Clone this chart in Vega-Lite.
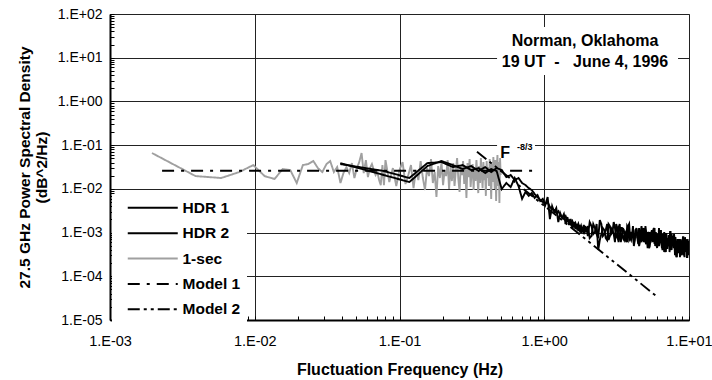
{
  "$schema": "https://vega.github.io/schema/vega-lite/v6.json",
  "width": 579,
  "height": 306,
  "autosize": {"type": "none"},
  "padding": {"left": 110, "top": 14, "right": 23, "bottom": 60},
  "background": "white",
  "config": {
    "font": "Liberation Sans",
    "view": {"stroke": "#888", "strokeWidth": 1},
    "axis": {"labelFont": "Liberation Sans", "titleFont": "Liberation Sans"}
  },
  "datasets": {
    "spec": [
      {"s":"1-sec","f":0.00195,"p":0.066},{"s":"1-sec","f":0.0039,"p":0.0196},{"s":"1-sec","f":0.00586,"p":0.0177},{"s":"1-sec","f":0.00781,"p":0.0242},{"s":"1-sec","f":0.00977,"p":0.035},{"s":"1-sec","f":0.0117,"p":0.0196},{"s":"1-sec","f":0.0137,"p":0.0168},{"s":"1-sec","f":0.0156,"p":0.0284},{"s":"1-sec","f":0.0176,"p":0.0269},{"s":"1-sec","f":0.0195,"p":0.0136},
      {"s":"1-sec","f":0.0215,"p":0.035},{"s":"1-sec","f":0.0234,"p":0.0369},{"s":"1-sec","f":0.0254,"p":0.0433},{"s":"1-sec","f":0.0273,"p":0.0299},{"s":"1-sec","f":0.0293,"p":0.0242},{"s":"1-sec","f":0.0313,"p":0.0369},{"s":"1-sec","f":0.0332,"p":0.0433},{"s":"1-sec","f":0.0352,"p":0.0242},{"s":"1-sec","f":0.0371,"p":0.0315},{"s":"1-sec","f":0.0391,"p":0.0136},
      {"s":"1-sec","f":0.041,"p":0.023},{"s":"1-sec","f":0.043,"p":0.0315},{"s":"1-sec","f":0.0449,"p":0.023},{"s":"1-sec","f":0.0469,"p":0.0389},{"s":"1-sec","f":0.0488,"p":0.0177},{"s":"1-sec","f":0.0508,"p":0.0299},{"s":"1-sec","f":0.0527,"p":0.041},{"s":"1-sec","f":0.0547,"p":0.066},{"s":"1-sec","f":0.0566,"p":0.023},{"s":"1-sec","f":0.0586,"p":0.0456},
      {"s":"1-sec","f":0.0605,"p":0.0186},{"s":"1-sec","f":0.0625,"p":0.0299},{"s":"1-sec","f":0.0645,"p":0.0369},{"s":"1-sec","f":0.0664,"p":0.0269},{"s":"1-sec","f":0.0684,"p":0.0207},{"s":"1-sec","f":0.0703,"p":0.0242},{"s":"1-sec","f":0.0723,"p":0.0159},{"s":"1-sec","f":0.0742,"p":0.0122},{"s":"1-sec","f":0.0762,"p":0.035},{"s":"1-sec","f":0.0781,"p":0.0122},
      {"s":"1-sec","f":0.080,"p":0.0456},{"s":"1-sec","f":0.085,"p":0.0143},{"s":"1-sec","f":0.090,"p":0.0299},{"s":"1-sec","f":0.095,"p":0.0116},{"s":"1-sec","f":0.100,"p":0.0269},{"s":"1-sec","f":0.105,"p":0.041},{"s":"1-sec","f":0.110,"p":0.0129},{"s":"1-sec","f":0.115,"p":0.0207},{"s":"1-sec","f":0.120,"p":0.035},{"s":"1-sec","f":0.125,"p":0.0104},
      {"s":"1-sec","f":0.130,"p":0.0269},{"s":"1-sec","f":0.135,"p":0.0159},{"s":"1-sec","f":0.140,"p":0.0433},{"s":"1-sec","f":0.145,"p":0.0177},{"s":"1-sec","f":0.150,"p":0.0094},{"s":"1-sec","f":0.155,"p":0.0299},{"s":"1-sec","f":0.160,"p":0.0196},{"s":"1-sec","f":0.165,"p":0.0481},{"s":"1-sec","f":0.170,"p":0.0136},{"s":"1-sec","f":0.175,"p":0.0242},
      {"s":"1-sec","f":0.180,"p":0.0065},{"s":"1-sec","f":0.185,"p":0.0333},{"s":"1-sec","f":0.190,"p":0.0177},{"s":"1-sec","f":0.195,"p":0.041},{"s":"1-sec","f":0.200,"p":0.0122},{"s":"1-sec","f":0.205,"p":0.0269},{"s":"1-sec","f":0.210,"p":0.0196},{"s":"1-sec","f":0.215,"p":0.0456},{"s":"1-sec","f":0.220,"p":0.0099},{"s":"1-sec","f":0.225,"p":0.0315},
      {"s":"1-sec","f":0.230,"p":0.0151},{"s":"1-sec","f":0.235,"p":0.0389},{"s":"1-sec","f":0.240,"p":0.0116},{"s":"1-sec","f":0.245,"p":0.0256},{"s":"1-sec","f":0.250,"p":0.0507},{"s":"1-sec","f":0.255,"p":0.0168},{"s":"1-sec","f":0.260,"p":0.0085},{"s":"1-sec","f":0.265,"p":0.035},{"s":"1-sec","f":0.270,"p":0.0207},{"s":"1-sec","f":0.275,"p":0.0433},
      {"s":"1-sec","f":0.280,"p":0.0129},{"s":"1-sec","f":0.285,"p":0.0284},{"s":"1-sec","f":0.290,"p":0.0062},{"s":"1-sec","f":0.295,"p":0.0389},{"s":"1-sec","f":0.300,"p":0.0186},{"s":"1-sec","f":0.305,"p":0.0481},{"s":"1-sec","f":0.310,"p":0.011},{"s":"1-sec","f":0.315,"p":0.0242},{"s":"1-sec","f":0.320,"p":0.0369},{"s":"1-sec","f":0.325,"p":0.0094},
      {"s":"1-sec","f":0.330,"p":0.0299},{"s":"1-sec","f":0.335,"p":0.0151},{"s":"1-sec","f":0.340,"p":0.0456},{"s":"1-sec","f":0.345,"p":0.0196},{"s":"1-sec","f":0.350,"p":0.008},{"s":"1-sec","f":0.355,"p":0.0333},{"s":"1-sec","f":0.360,"p":0.0136},{"s":"1-sec","f":0.365,"p":0.0507},{"s":"1-sec","f":0.370,"p":0.0218},{"s":"1-sec","f":0.375,"p":0.0104},
      {"s":"1-sec","f":0.380,"p":0.041},{"s":"1-sec","f":0.385,"p":0.0159},{"s":"1-sec","f":0.390,"p":0.0269},{"s":"1-sec","f":0.395,"p":0.0069},{"s":"1-sec","f":0.400,"p":0.0433},{"s":"1-sec","f":0.405,"p":0.0177},{"s":"1-sec","f":0.410,"p":0.0315},{"s":"1-sec","f":0.415,"p":0.0116},{"s":"1-sec","f":0.420,"p":0.0481},{"s":"1-sec","f":0.425,"p":0.0207},
      {"s":"1-sec","f":0.430,"p":0.0059},{"s":"1-sec","f":0.435,"p":0.0369},{"s":"1-sec","f":0.440,"p":0.0143},{"s":"1-sec","f":0.445,"p":0.0534},{"s":"1-sec","f":0.450,"p":0.0242},{"s":"1-sec","f":0.455,"p":0.0099},{"s":"1-sec","f":0.460,"p":0.0456},{"s":"1-sec","f":0.465,"p":0.00526},{"s":"1-sec","f":0.470,"p":0.0299},{"s":"1-sec","f":0.475,"p":0.0593},
      {"s":"1-sec","f":0.480,"p":0.0116},{"s":"1-sec","f":0.485,"p":0.041},{"s":"1-sec","f":0.490,"p":0.00473},{"s":"1-sec","f":0.495,"p":0.0507},{"s":"1-sec","f":0.500,"p":0.0207},

      {"s":"HDR 2","f":0.039,"p":0.0369},{"s":"HDR 2","f":0.078,"p":0.0256},{"s":"HDR 2","f":0.117,"p":0.0177},{"s":"HDR 2","f":0.156,"p":0.0389},{"s":"HDR 2","f":0.195,"p":0.041},{"s":"HDR 2","f":0.234,"p":0.0315},{"s":"HDR 2","f":0.273,"p":0.035},{"s":"HDR 2","f":0.313,"p":0.0269},{"s":"HDR 2","f":0.352,"p":0.0299},{"s":"HDR 2","f":0.391,"p":0.023},
      {"s":"HDR 2","f":0.430,"p":0.0284},{"s":"HDR 2","f":0.469,"p":0.0256},{"s":"HDR 2","f":0.508,"p":0.0099},{"s":"HDR 2","f":0.547,"p":0.0136},{"s":"HDR 2","f":0.586,"p":0.011},{"s":"HDR 2","f":0.625,"p":0.0177},{"s":"HDR 2","f":0.664,"p":0.0116},{"s":"HDR 2","f":0.703,"p":0.0059},{"s":"HDR 2","f":0.742,"p":0.0085},{"s":"HDR 2","f":0.781,"p":0.0069},
      {"s":"HDR 2","f":0.820,"p":0.008},{"s":"HDR 2","f":0.859,"p":0.0062},{"s":"HDR 2","f":0.898,"p":0.0072},{"s":"HDR 2","f":0.938,"p":0.00526},{"s":"HDR 2","f":0.977,"p":0.0059},{"s":"HDR 2","f":1.016,"p":0.00426},{"s":"HDR 2","f":1.055,"p":0.0065},{"s":"HDR 2","f":1.094,"p":0.00204},{"s":"HDR 2","f":1.133,"p":0.00404},{"s":"HDR 2","f":1.172,"p":0.00294},
      {"s":"HDR 2","f":1.211,"p":0.00364},{"s":"HDR 2","f":1.250,"p":0.00174},{"s":"HDR 2","f":1.289,"p":0.00279},{"s":"HDR 2","f":1.328,"p":0.00215},{"s":"HDR 2","f":1.367,"p":0.00265},{"s":"HDR 2","f":1.406,"p":0.00157},{"s":"HDR 2","f":1.445,"p":0.00226},{"s":"HDR 2","f":1.484,"p":0.00149},{"s":"HDR 2","f":1.523,"p":0.00204},{"s":"HDR 2","f":1.563,"p":0.00127},
      {"s":"HDR 2","f":1.602,"p":0.00174},{"s":"HDR 2","f":1.641,"p":0.0012},{"s":"HDR 2","f":1.680,"p":0.00157},{"s":"HDR 2","f":1.719,"p":0.00108},{"s":"HDR 2","f":1.758,"p":0.00149},{"s":"HDR 2","f":1.797,"p":0.00098},{"s":"HDR 2","f":1.836,"p":0.00134},{"s":"HDR 2","f":1.875,"p":0.000924},{"s":"HDR 2","f":1.914,"p":0.00141},{"s":"HDR 2","f":1.953,"p":0.00103},
      {"s":"HDR 2","f":2.00,"p":0.00141},{"s":"HDR 2","f":2.12,"p":0.000832},{"s":"HDR 2","f":2.24,"p":0.00127},{"s":"HDR 2","f":2.36,"p":0.000748},{"s":"HDR 2","f":2.48,"p":0.00157},{"s":"HDR 2","f":2.60,"p":0.000924},{"s":"HDR 2","f":2.72,"p":0.00157},{"s":"HDR 2","f":2.84,"p":0.000832},{"s":"HDR 2","f":2.96,"p":0.00114},{"s":"HDR 2","f":3.08,"p":0.000606},
      {"s":"HDR 2","f":3.20,"p":0.00127},{"s":"HDR 2","f":3.32,"p":0.000832},{"s":"HDR 2","f":3.44,"p":0.00127},{"s":"HDR 2","f":3.56,"p":0.000674},{"s":"HDR 2","f":3.68,"p":0.000924},{"s":"HDR 2","f":3.80,"p":0.00141},{"s":"HDR 2","f":3.92,"p":0.000748},{"s":"HDR 2","f":4.04,"p":0.000924},{"s":"HDR 2","f":4.16,"p":0.000546},{"s":"HDR 2","f":4.28,"p":0.00114},
      {"s":"HDR 2","f":4.40,"p":0.000748},{"s":"HDR 2","f":4.52,"p":0.000491},{"s":"HDR 2","f":4.64,"p":0.00103},{"s":"HDR 2","f":4.76,"p":0.000674},{"s":"HDR 2","f":4.88,"p":0.00127},{"s":"HDR 2","f":5.00,"p":0.000606},{"s":"HDR 2","f":5.12,"p":0.000748},{"s":"HDR 2","f":5.24,"p":0.000832},{"s":"HDR 2","f":5.36,"p":0.000491},{"s":"HDR 2","f":5.48,"p":0.00103},
      {"s":"HDR 2","f":5.60,"p":0.000606},{"s":"HDR 2","f":5.72,"p":0.00127},{"s":"HDR 2","f":5.84,"p":0.000674},{"s":"HDR 2","f":5.96,"p":0.000546},{"s":"HDR 2","f":6.08,"p":0.000924},{"s":"HDR 2","f":6.20,"p":0.000491},{"s":"HDR 2","f":6.32,"p":0.000832},{"s":"HDR 2","f":6.44,"p":0.000606},{"s":"HDR 2","f":6.56,"p":0.000924},{"s":"HDR 2","f":6.68,"p":0.000442},
      {"s":"HDR 2","f":6.80,"p":0.000748},{"s":"HDR 2","f":6.92,"p":0.000358},{"s":"HDR 2","f":7.04,"p":0.000674},{"s":"HDR 2","f":7.16,"p":0.000491},{"s":"HDR 2","f":7.28,"p":0.000832},{"s":"HDR 2","f":7.40,"p":0.000546},{"s":"HDR 2","f":7.52,"p":0.000398},{"s":"HDR 2","f":7.64,"p":0.000748},{"s":"HDR 2","f":7.76,"p":0.000606},{"s":"HDR 2","f":7.88,"p":0.000924},
      {"s":"HDR 2","f":8.00,"p":0.000338},{"s":"HDR 2","f":8.12,"p":0.000515},{"s":"HDR 2","f":8.24,"p":0.000274},{"s":"HDR 2","f":8.36,"p":0.000636},{"s":"HDR 2","f":8.48,"p":0.000376},{"s":"HDR 2","f":8.60,"p":0.000573},{"s":"HDR 2","f":8.72,"p":0.000417},{"s":"HDR 2","f":8.84,"p":0.000304},{"s":"HDR 2","f":8.96,"p":0.000515},{"s":"HDR 2","f":9.08,"p":0.000636},
      {"s":"HDR 2","f":9.20,"p":0.000376},{"s":"HDR 2","f":9.32,"p":0.000274},{"s":"HDR 2","f":9.44,"p":0.000573},{"s":"HDR 2","f":9.56,"p":0.000464},{"s":"HDR 2","f":9.68,"p":0.000338},{"s":"HDR 2","f":9.80,"p":0.000707},{"s":"HDR 2","f":9.92,"p":0.000417},{"s":"HDR 2","f":10.0,"p":0.000376},
      {"s":"HDR 2","f":2.06,"p":0.000748},{"s":"HDR 2","f":2.18,"p":0.00157},{"s":"HDR 2","f":2.30,"p":0.000924},{"s":"HDR 2","f":2.42,"p":0.00193},{"s":"HDR 2","f":2.54,"p":0.000832},{"s":"HDR 2","f":2.66,"p":0.00114},{"s":"HDR 2","f":2.78,"p":0.000674},{"s":"HDR 2","f":2.90,"p":0.00127},{"s":"HDR 2","f":3.02,"p":0.000924},{"s":"HDR 2","f":3.14,"p":0.00157},
      {"s":"HDR 2","f":3.26,"p":0.000606},{"s":"HDR 2","f":3.38,"p":0.00127},{"s":"HDR 2","f":3.50,"p":0.000748},{"s":"HDR 2","f":3.62,"p":0.00103},{"s":"HDR 2","f":3.74,"p":0.000606},{"s":"HDR 2","f":3.86,"p":0.00157},{"s":"HDR 2","f":3.98,"p":0.000674},{"s":"HDR 2","f":4.10,"p":0.00103},{"s":"HDR 2","f":4.22,"p":0.000748},{"s":"HDR 2","f":4.34,"p":0.00127},
      {"s":"HDR 2","f":4.46,"p":0.00103},{"s":"HDR 2","f":4.58,"p":0.000606},{"s":"HDR 2","f":4.70,"p":0.00141},{"s":"HDR 2","f":4.82,"p":0.000674},{"s":"HDR 2","f":4.94,"p":0.000924},{"s":"HDR 2","f":5.06,"p":0.000546},{"s":"HDR 2","f":5.18,"p":0.00103},{"s":"HDR 2","f":5.30,"p":0.000442},{"s":"HDR 2","f":5.42,"p":0.000924},{"s":"HDR 2","f":5.54,"p":0.000674},
      {"s":"HDR 2","f":5.66,"p":0.00114},{"s":"HDR 2","f":5.78,"p":0.000546},{"s":"HDR 2","f":5.90,"p":0.00103},{"s":"HDR 2","f":6.02,"p":0.000442},{"s":"HDR 2","f":6.14,"p":0.000832},{"s":"HDR 2","f":6.26,"p":0.000606},{"s":"HDR 2","f":6.38,"p":0.00114},{"s":"HDR 2","f":6.50,"p":0.000442},{"s":"HDR 2","f":6.62,"p":0.000674},{"s":"HDR 2","f":6.74,"p":0.00103},
      {"s":"HDR 2","f":6.86,"p":0.000398},{"s":"HDR 2","f":6.98,"p":0.000748},{"s":"HDR 2","f":7.10,"p":0.000546},{"s":"HDR 2","f":7.22,"p":0.000832},{"s":"HDR 2","f":7.34,"p":0.000358},{"s":"HDR 2","f":7.46,"p":0.000674},{"s":"HDR 2","f":7.58,"p":0.000924},{"s":"HDR 2","f":7.70,"p":0.000491},{"s":"HDR 2","f":7.82,"p":0.000442},{"s":"HDR 2","f":7.94,"p":0.000748},
      {"s":"HDR 2","f":8.06,"p":0.000785},{"s":"HDR 2","f":8.18,"p":0.000304},{"s":"HDR 2","f":8.30,"p":0.000515},{"s":"HDR 2","f":8.42,"p":0.000376},{"s":"HDR 2","f":8.54,"p":0.000636},{"s":"HDR 2","f":8.66,"p":0.000274},{"s":"HDR 2","f":8.78,"p":0.000707},{"s":"HDR 2","f":8.90,"p":0.000515},{"s":"HDR 2","f":9.02,"p":0.000338},{"s":"HDR 2","f":9.14,"p":0.000573},
      {"s":"HDR 2","f":9.26,"p":0.000304},{"s":"HDR 2","f":9.38,"p":0.000785},{"s":"HDR 2","f":9.50,"p":0.000417},{"s":"HDR 2","f":9.62,"p":0.000636},{"s":"HDR 2","f":9.74,"p":0.000376},{"s":"HDR 2","f":9.86,"p":0.000304},{"s":"HDR 2","f":9.98,"p":0.000573},

      {"s":"HDR 1","f":0.039,"p":0.0389},{"s":"HDR 1","f":0.078,"p":0.0207},{"s":"HDR 1","f":0.117,"p":0.0143},{"s":"HDR 1","f":0.156,"p":0.0333},{"s":"HDR 1","f":0.195,"p":0.0433},{"s":"HDR 1","f":0.234,"p":0.035},{"s":"HDR 1","f":0.273,"p":0.0284},{"s":"HDR 1","f":0.313,"p":0.0333},{"s":"HDR 1","f":0.352,"p":0.0256},{"s":"HDR 1","f":0.391,"p":0.0315},
      {"s":"HDR 1","f":0.430,"p":0.0242},{"s":"HDR 1","f":0.469,"p":0.0299},{"s":"HDR 1","f":0.508,"p":0.0269},{"s":"HDR 1","f":0.547,"p":0.0186},{"s":"HDR 1","f":0.586,"p":0.0207},{"s":"HDR 1","f":0.625,"p":0.0159},{"s":"HDR 1","f":0.664,"p":0.0177},{"s":"HDR 1","f":0.703,"p":0.0136},{"s":"HDR 1","f":0.742,"p":0.0122},{"s":"HDR 1","f":0.781,"p":0.0104},
      {"s":"HDR 1","f":0.820,"p":0.0094},{"s":"HDR 1","f":0.859,"p":0.0076},{"s":"HDR 1","f":0.898,"p":0.0065},{"s":"HDR 1","f":0.938,"p":0.00554},{"s":"HDR 1","f":0.977,"p":0.00499},{"s":"HDR 1","f":1.016,"p":0.00449},{"s":"HDR 1","f":1.055,"p":0.00499},{"s":"HDR 1","f":1.094,"p":0.00383},{"s":"HDR 1","f":1.133,"p":0.00345},{"s":"HDR 1","f":1.172,"p":0.00327},
      {"s":"HDR 1","f":1.211,"p":0.00279},{"s":"HDR 1","f":1.250,"p":0.0031},{"s":"HDR 1","f":1.289,"p":0.00251},{"s":"HDR 1","f":1.328,"p":0.00226},{"s":"HDR 1","f":1.367,"p":0.00204},{"s":"HDR 1","f":1.406,"p":0.00238},{"s":"HDR 1","f":1.445,"p":0.00183},{"s":"HDR 1","f":1.484,"p":0.00193},{"s":"HDR 1","f":1.523,"p":0.00157},{"s":"HDR 1","f":1.563,"p":0.00183},
      {"s":"HDR 1","f":1.602,"p":0.00141},{"s":"HDR 1","f":1.641,"p":0.00165},{"s":"HDR 1","f":1.680,"p":0.00127},{"s":"HDR 1","f":1.719,"p":0.00157},{"s":"HDR 1","f":1.758,"p":0.00114},{"s":"HDR 1","f":1.797,"p":0.00141},{"s":"HDR 1","f":1.836,"p":0.00103},{"s":"HDR 1","f":1.875,"p":0.00149},{"s":"HDR 1","f":1.914,"p":0.00108},{"s":"HDR 1","f":1.953,"p":0.00134},
      {"s":"HDR 1","f":2.00,"p":0.000832},{"s":"HDR 1","f":2.12,"p":0.00141},{"s":"HDR 1","f":2.24,"p":0.00103},{"s":"HDR 1","f":2.36,"p":0.000398},{"s":"HDR 1","f":2.48,"p":0.000924},{"s":"HDR 1","f":2.60,"p":0.00114},{"s":"HDR 1","f":2.72,"p":0.000674},{"s":"HDR 1","f":2.84,"p":0.00141},{"s":"HDR 1","f":2.96,"p":0.00103},{"s":"HDR 1","f":3.08,"p":0.00127},
      {"s":"HDR 1","f":3.20,"p":0.000748},{"s":"HDR 1","f":3.32,"p":0.00157},{"s":"HDR 1","f":3.44,"p":0.000832},{"s":"HDR 1","f":3.56,"p":0.00103},{"s":"HDR 1","f":3.68,"p":0.000606},{"s":"HDR 1","f":3.80,"p":0.00127},{"s":"HDR 1","f":3.92,"p":0.000748},{"s":"HDR 1","f":4.04,"p":0.000832},{"s":"HDR 1","f":4.16,"p":0.000491},{"s":"HDR 1","f":4.28,"p":0.00114},
      {"s":"HDR 1","f":4.40,"p":0.000748},{"s":"HDR 1","f":4.52,"p":0.00127},{"s":"HDR 1","f":4.64,"p":0.000674},{"s":"HDR 1","f":4.76,"p":0.00103},{"s":"HDR 1","f":4.88,"p":0.000606},{"s":"HDR 1","f":5.00,"p":0.00141},{"s":"HDR 1","f":5.12,"p":0.000674},{"s":"HDR 1","f":5.24,"p":0.000832},{"s":"HDR 1","f":5.36,"p":0.000546},{"s":"HDR 1","f":5.48,"p":0.000924},
      {"s":"HDR 1","f":5.60,"p":0.000748},{"s":"HDR 1","f":5.72,"p":0.00114},{"s":"HDR 1","f":5.84,"p":0.000491},{"s":"HDR 1","f":5.96,"p":0.000832},{"s":"HDR 1","f":6.08,"p":0.000606},{"s":"HDR 1","f":6.20,"p":0.00127},{"s":"HDR 1","f":6.32,"p":0.000674},{"s":"HDR 1","f":6.44,"p":0.000832},{"s":"HDR 1","f":6.56,"p":0.000398},{"s":"HDR 1","f":6.68,"p":0.000748},
      {"s":"HDR 1","f":6.80,"p":0.000546},{"s":"HDR 1","f":6.92,"p":0.000924},{"s":"HDR 1","f":7.04,"p":0.000442},{"s":"HDR 1","f":7.16,"p":0.000606},{"s":"HDR 1","f":7.28,"p":0.000491},{"s":"HDR 1","f":7.40,"p":0.00103},{"s":"HDR 1","f":7.52,"p":0.000442},{"s":"HDR 1","f":7.64,"p":0.000748},{"s":"HDR 1","f":7.76,"p":0.000546},{"s":"HDR 1","f":7.88,"p":0.000832},
      {"s":"HDR 1","f":8.00,"p":0.000304},{"s":"HDR 1","f":8.12,"p":0.000515},{"s":"HDR 1","f":8.24,"p":0.000376},{"s":"HDR 1","f":8.36,"p":0.000707},{"s":"HDR 1","f":8.48,"p":0.000464},{"s":"HDR 1","f":8.60,"p":0.000573},{"s":"HDR 1","f":8.72,"p":0.000338},{"s":"HDR 1","f":8.84,"p":0.000636},{"s":"HDR 1","f":8.96,"p":0.000417},{"s":"HDR 1","f":9.08,"p":0.000785},
      {"s":"HDR 1","f":9.20,"p":0.000304},{"s":"HDR 1","f":9.32,"p":0.000515},{"s":"HDR 1","f":9.44,"p":0.000376},{"s":"HDR 1","f":9.56,"p":0.000636},{"s":"HDR 1","f":9.68,"p":0.000274},{"s":"HDR 1","f":9.80,"p":0.000573},{"s":"HDR 1","f":9.92,"p":0.000417},{"s":"HDR 1","f":10.0,"p":0.000636},
      {"s":"HDR 1","f":2.06,"p":0.00174},{"s":"HDR 1","f":2.18,"p":0.000924},{"s":"HDR 1","f":2.30,"p":0.00157},{"s":"HDR 1","f":2.42,"p":0.000674},{"s":"HDR 1","f":2.54,"p":0.00127},{"s":"HDR 1","f":2.66,"p":0.000748},{"s":"HDR 1","f":2.78,"p":0.00157},{"s":"HDR 1","f":2.90,"p":0.000924},{"s":"HDR 1","f":3.02,"p":0.00174},{"s":"HDR 1","f":3.14,"p":0.000832},
      {"s":"HDR 1","f":3.26,"p":0.00127},{"s":"HDR 1","f":3.38,"p":0.000606},{"s":"HDR 1","f":3.50,"p":0.00127},{"s":"HDR 1","f":3.62,"p":0.000924},{"s":"HDR 1","f":3.74,"p":0.00141},{"s":"HDR 1","f":3.86,"p":0.000674},{"s":"HDR 1","f":3.98,"p":0.00103},{"s":"HDR 1","f":4.10,"p":0.00141},{"s":"HDR 1","f":4.22,"p":0.000674},{"s":"HDR 1","f":4.34,"p":0.00114},
      {"s":"HDR 1","f":4.46,"p":0.000546},{"s":"HDR 1","f":4.58,"p":0.000924},{"s":"HDR 1","f":4.70,"p":0.000606},{"s":"HDR 1","f":4.82,"p":0.00127},{"s":"HDR 1","f":4.94,"p":0.000748},{"s":"HDR 1","f":5.06,"p":0.00103},{"s":"HDR 1","f":5.18,"p":0.000442},{"s":"HDR 1","f":5.30,"p":0.00103},{"s":"HDR 1","f":5.42,"p":0.000606},{"s":"HDR 1","f":5.54,"p":0.00114},
      {"s":"HDR 1","f":5.66,"p":0.000674},{"s":"HDR 1","f":5.78,"p":0.00127},{"s":"HDR 1","f":5.90,"p":0.000546},{"s":"HDR 1","f":6.02,"p":0.000924},{"s":"HDR 1","f":6.14,"p":0.000491},{"s":"HDR 1","f":6.26,"p":0.000832},{"s":"HDR 1","f":6.38,"p":0.00114},{"s":"HDR 1","f":6.50,"p":0.000491},{"s":"HDR 1","f":6.62,"p":0.000832},{"s":"HDR 1","f":6.74,"p":0.000358},
      {"s":"HDR 1","f":6.86,"p":0.000674},{"s":"HDR 1","f":6.98,"p":0.000924},{"s":"HDR 1","f":7.10,"p":0.000442},{"s":"HDR 1","f":7.22,"p":0.000748},{"s":"HDR 1","f":7.34,"p":0.000546},{"s":"HDR 1","f":7.46,"p":0.00103},{"s":"HDR 1","f":7.58,"p":0.000398},{"s":"HDR 1","f":7.70,"p":0.000832},{"s":"HDR 1","f":7.82,"p":0.000491},{"s":"HDR 1","f":7.94,"p":0.000674},
      {"s":"HDR 1","f":8.06,"p":0.000707},{"s":"HDR 1","f":8.18,"p":0.000274},{"s":"HDR 1","f":8.30,"p":0.000573},{"s":"HDR 1","f":8.42,"p":0.000338},{"s":"HDR 1","f":8.54,"p":0.000707},{"s":"HDR 1","f":8.66,"p":0.000417},{"s":"HDR 1","f":8.78,"p":0.000636},{"s":"HDR 1","f":8.90,"p":0.000304},{"s":"HDR 1","f":9.02,"p":0.000573},{"s":"HDR 1","f":9.14,"p":0.000785},
      {"s":"HDR 1","f":9.26,"p":0.000338},{"s":"HDR 1","f":9.38,"p":0.000515},{"s":"HDR 1","f":9.50,"p":0.000376},{"s":"HDR 1","f":9.62,"p":0.000707},{"s":"HDR 1","f":9.74,"p":0.000274},{"s":"HDR 1","f":9.86,"p":0.000636},{"s":"HDR 1","f":9.98,"p":0.000417},

      {"s":"Model 1","f":0.00229,"p":0.026},{"s":"Model 1","f":0.9,"p":0.026},
      {"s":"Model 2","f":0.343,"p":0.071},{"s":"Model 2","f":5.9,"p":0.000036}
    ]
  },
  "layer": [
    {
      "data": {"values": [{}]},
      "mark": {"type": "rect", "fill": "white"},
      "encoding": {
        "x": {"datum": 0.472, "type": "quantitative", "scale": {"type": "log", "domain": [0.001, 10]}},
        "x2": {"datum": 8.4},
        "y": {"datum": 50.4, "type": "quantitative", "scale": {"type": "log", "domain": [0.00001, 100]}},
        "y2": {"datum": 4.02}
      }
    },
    {
      "data": {"values": [{}]},
      "mark": {"type": "rect", "fill": "white"},
      "encoding": {
        "x": {"datum": 0.472, "type": "quantitative"},
        "x2": {"datum": 0.863},
        "y": {"datum": 0.131, "type": "quantitative"},
        "y2": {"datum": 0.06}
      }
    },
    {
      "data": {"name": "spec"},
      "mark": {"type": "line", "strokeWidth": 1.9, "clip": true},
      "encoding": {
        "x": {
          "field": "f", "type": "quantitative",
          "scale": {"type": "log", "domain": [0.001, 10]},
          "axis": {
            "title": "Fluctuation Frequency (Hz)",
            "titleFontSize": 16, "titleFontWeight": "bold", "titleColor": "black", "titlePadding": 14,
            "values": [0.001,0.002,0.003,0.004,0.005,0.006,0.007,0.008,0.009,0.01,0.02,0.03,0.04,0.05,0.06,0.07,0.08,0.09,0.1,0.2,0.3,0.4,0.5,0.6,0.7,0.8,0.9,1,2,3,4,5,6,7,8,9,10],
            "labelExpr": "abs(log(datum.value)/LN10 - round(log(datum.value)/LN10)) < 0.001 ? '1.E' + (round(log(datum.value)/LN10) < 0 ? '-' : '+') + (abs(round(log(datum.value)/LN10)) < 10 ? '0' : '') + abs(round(log(datum.value)/LN10)) : ''",
            "labelOverlap": false, "labelFlush": false, "labelBound": false,
            "labelFontSize": 14.5, "labelColor": "black", "labelPadding": 18,
            "tickSize": -4, "tickColor": "black", "tickWidth": 1,
            "domainColor": "black", "domainWidth": 2,
            "grid": true, "gridColor": "#222", "gridWidth": 1,
            "gridOpacity": {"condition": {"test": "abs(log(datum.value)/LN10 - round(log(datum.value)/LN10)) < 0.001", "value": 1}, "value": 0}
          }
        },
        "y": {
          "field": "p", "type": "quantitative",
          "scale": {"type": "log", "domain": [0.00001, 100]},
          "axis": {
            "title": ["27.5 GHz Power Spectral Density", "(dB^2/Hz)"],
            "titleFontSize": 15.5, "titleFontWeight": "bold", "titleColor": "black", "titlePadding": 8, "titleLineHeight": 17,
            "values": [0.00001,0.00002,0.00003,0.00004,0.00005,0.00006,0.00007,0.00008,0.00009,0.0001,0.0002,0.0003,0.0004,0.0005,0.0006,0.0007,0.0008,0.0009,0.001,0.002,0.003,0.004,0.005,0.006,0.007,0.008,0.009,0.01,0.02,0.03,0.04,0.05,0.06,0.07,0.08,0.09,0.1,0.2,0.3,0.4,0.5,0.6,0.7,0.8,0.9,1,2,3,4,5,6,7,8,9,10,20,30,40,50,60,70,80,90,100],
            "labelExpr": "abs(log(datum.value)/LN10 - round(log(datum.value)/LN10)) < 0.001 ? '1.E' + (round(log(datum.value)/LN10) < 0 ? '-' : '+') + (abs(round(log(datum.value)/LN10)) < 10 ? '0' : '') + abs(round(log(datum.value)/LN10)) : ''",
            "labelOverlap": false, "labelBound": false, "labelFlush": false,
            "labelFontSize": 14, "labelColor": "black", "labelPadding": 12,
            "tickSize": -4, "tickColor": "black", "tickWidth": 1,
            "domainColor": "black", "domainWidth": 2,
            "grid": true, "gridColor": "#222", "gridWidth": 1,
            "gridOpacity": {"condition": {"test": "abs(log(datum.value)/LN10 - round(log(datum.value)/LN10)) < 0.001", "value": 1}, "value": 0}
          }
        },
        "color": {
          "field": "s", "type": "nominal",
          "scale": {"domain": ["HDR 1", "HDR 2", "1-sec", "Model 1", "Model 2"], "range": ["#000000", "#000000", "#a0a0a0", "#000000", "#000000"]},
          "legend": {
            "orient": "none", "legendX": 2, "legendY": 180, "title": null,
            "fillColor": "white", "padding": 6,
            "symbolType": "M1,0H26", "symbolSize": 16, "symbolStrokeWidth": 2,
            "labelFont": "Liberation Sans", "labelFontSize": 15.5, "labelFontWeight": "bold", "labelColor": "black",
            "labelOffset": 49, "rowPadding": 8.4
          }
        },
        "strokeDash": {
          "field": "s", "type": "nominal",
          "scale": {"domain": ["HDR 1", "HDR 2", "1-sec", "Model 1", "Model 2"], "range": [[1, 0], [1, 0], [1, 0], [12, 7, 3, 7], [12, 4, 3, 4, 3, 4]]},
          "legend": null
        }
      }
    },
    {
      "data": {"values": [{}]},
      "mark": {"type": "text", "text": ["Norman, Oklahoma", "19 UT\u00a0\u00a0-\u00a0\u00a0\u00a0June 4, 1996"], "font": "Liberation Sans", "fontSize": 16, "fontWeight": "bold", "align": "center", "baseline": "middle", "lineHeight": 21, "color": "black"},
      "encoding": {
        "x": {"datum": 1.912, "type": "quantitative"},
        "y": {"datum": 24.5, "type": "quantitative"}
      }
    },
    {
      "data": {"values": [{}]},
      "mark": {"type": "text", "text": "F", "font": "Liberation Sans", "fontSize": 16, "fontWeight": "bold", "align": "left", "baseline": "alphabetic", "color": "black"},
      "encoding": {
        "x": {"datum": 0.497, "type": "quantitative"},
        "y": {"datum": 0.0507, "type": "quantitative"}
      }
    },
    {
      "data": {"values": [{}]},
      "mark": {"type": "text", "text": "-8/3", "font": "Liberation Sans", "fontSize": 9, "fontWeight": "bold", "align": "left", "baseline": "alphabetic", "color": "black"},
      "encoding": {
        "x": {"datum": 0.648, "type": "quantitative"},
        "y": {"datum": 0.0773, "type": "quantitative"}
      }
    }
  ]
}
